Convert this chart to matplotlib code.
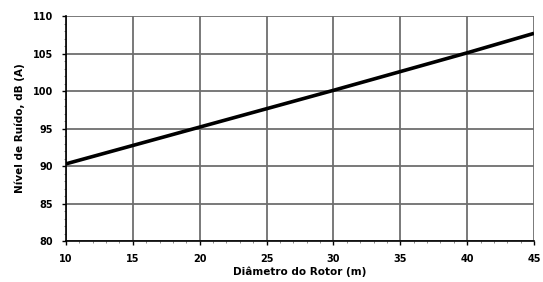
import numpy as np
import matplotlib.pyplot as plt
from matplotlib.ticker import MultipleLocator

# Dados
diametro = [10, 20, 30, 40, 45]
ruido = [90.3, 95.2, 100.1, 105.1, 107.7]

xticks = [10, 15, 20, 25, 30, 35, 40, 45]
yticks = [80, 85, 90, 95, 100, 105, 110]

fig = plt.figure(figsize=(5.43, 2.82), dpi=100)
ax = fig.add_axes([0.1215, 0.145, 0.862, 0.798])

ax.plot(diametro, ruido, color='black', linewidth=2.6, solid_capstyle='butt')

ax.set_xlim(10, 45)
ax.set_ylim(80, 110)
ax.set_xticks(xticks)
ax.set_yticks(yticks)
ax.xaxis.set_minor_locator(MultipleLocator(1))
ax.yaxis.set_minor_locator(MultipleLocator(1))
ax.grid(True, which='major', color='#6e6e6e', linewidth=1.3)
ax.tick_params(which='major', length=3, width=1, labelsize=7, pad=6)
ax.tick_params(which='minor', length=1.5, width=0.6, color='#777777')
for lab in ax.get_xticklabels() + ax.get_yticklabels():
    lab.set_fontweight('bold')

for s in ['top', 'right']:
    ax.spines[s].set_visible(False)
ax.spines['left'].set_linewidth(1.2)
ax.spines['bottom'].set_linewidth(1.2)

ax.set_xlabel('Diâmetro do Rotor (m)', fontsize=7.5, fontweight='bold', labelpad=2)
ax.set_ylabel('Nível de Ruído, dB (A)', fontsize=7.5, fontweight='bold', labelpad=6)

fig.savefig('out.png', dpi=100)
